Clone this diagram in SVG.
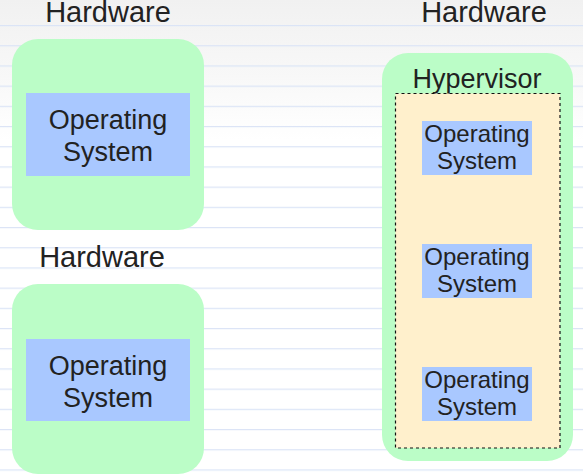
<svg xmlns="http://www.w3.org/2000/svg" width="583" height="475" viewBox="0 0 583 475">
<defs>
<linearGradient id="bg" x1="0" y1="0" x2="0" y2="1">
<stop offset="0" stop-color="#f1f1f1"/>
<stop offset="0.55" stop-color="#f8f8f8"/>
<stop offset="1" stop-color="#ffffff"/>
</linearGradient>
<pattern id="rule" x="0" y="4.8" width="583" height="20.2" patternUnits="userSpaceOnUse">
<rect x="0" y="0" width="583" height="1.2" fill="#dbe4f6"/>
</pattern>
</defs>
<style>
.hw{fill:#bbfdc7}
.os{fill:#a9c8ff}
.t{font-family:"Liberation Sans",Arial,sans-serif;fill:#222;text-anchor:middle}
.big{font-size:29px}
.mid{font-size:27px}
.sm{font-size:24px}
</style>
<rect width="583" height="475" fill="#fff"/>
<rect width="583" height="140" fill="url(#bg)"/>
<rect y="20" width="583" height="455" fill="url(#rule)"/>
<g id="hw-label-1"><text class="t big" x="108" y="22">Hardware</text></g>
<g id="hw-label-3"><text class="t big" x="484" y="22">Hardware</text></g>
<g id="hw-label-2"><text class="t big" x="102" y="267">Hardware</text></g>
<g id="machine-1">
<rect class="hw" x="12" y="39" width="192" height="191" rx="26"/>
<rect class="os" x="26" y="93" width="164" height="83"/>
<text class="t mid" x="108" y="129">Operating</text>
<text class="t mid" x="108" y="161">System</text>
</g>
<g id="machine-2">
<rect class="hw" x="12" y="284" width="192" height="190" rx="26"/>
<rect class="os" x="26" y="339" width="164" height="82"/>
<text class="t mid" x="108" y="375">Operating</text>
<text class="t mid" x="108" y="407">System</text>
</g>
<g id="machine-3">
<rect class="hw" x="382" y="53" width="191" height="408" rx="26"/>
<text class="t mid" x="477" y="88">Hypervisor</text>
<rect x="395.5" y="93.5" width="164.5" height="354.5" fill="#fff0cc" stroke="#111" stroke-width="1.2" stroke-dasharray="3,3"/>
</g>
<g id="vm-1">
<rect class="os" x="422" y="121" width="110" height="54"/>
<text class="t sm" x="477" y="142">Operating</text>
<text class="t sm" x="477" y="169">System</text>
</g>
<g id="vm-2">
<rect class="os" x="422" y="244" width="110" height="54"/>
<text class="t sm" x="477" y="265">Operating</text>
<text class="t sm" x="477" y="292">System</text>
</g>
<g id="vm-3">
<rect class="os" x="422" y="367" width="110" height="54"/>
<text class="t sm" x="477" y="388">Operating</text>
<text class="t sm" x="477" y="415">System</text>
</g>
<g id="connectors"></g>
</svg>
